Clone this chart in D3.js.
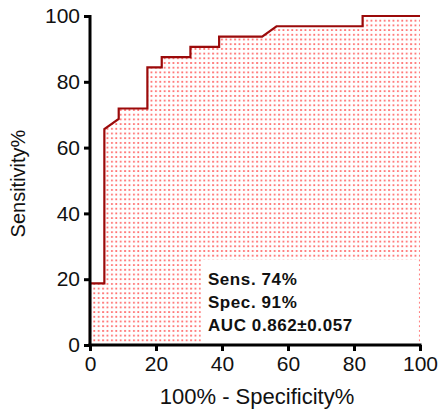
<!DOCTYPE html>
<html>
<head>
<meta charset="utf-8">
<script src="https://cdn.jsdelivr.net/npm/d3@7"></script>
<style>
  body { margin: 0; background: #fff; }
  svg { display: block; }
</style>
</head>
<body>
<script>
// ROC curve points: x = 100% - Specificity%, y = Sensitivity%
const fpr = [0, 0, 4.35, 4.35, 8.70, 8.70, 17.39, 17.39, 21.74, 21.74, 30.43, 30.43, 39.13, 39.13, 52.17, 56.52, 82.61, 82.61, 100];
const sens = [0, 18.75, 18.75, 65.63, 68.75, 71.88, 71.88, 84.38, 84.38, 87.5, 87.5, 90.63, 90.63, 93.75, 93.75, 96.88, 96.88, 100, 100];
const xTicks = [0, 20, 40, 60, 80, 100];
const yTicks = [0, 20, 40, 60, 80, 100];
const statsLines = ["Sens. 74%", "Spec. 91%", "AUC 0.862\u00b10.057"];
const xLabel = "100% - Specificity%";
const yLabel = "Sensitivity%";

const W = 442, H = 410;
const svg = d3.select("body").append("svg").attr("width", W).attr("height", H);

const x = d3.scaleLinear().domain([0, 100]).range([90, 420]);
const y = d3.scaleLinear().domain([0, 100]).range([345, 16]);

const pts = fpr.map((v, i) => [v, sens[i]]);

const defs = svg.append("defs");
const pat = defs.append("pattern").attr("id", "dots").attr("patternUnits", "userSpaceOnUse")
  .attr("width", 4.4).attr("height", 4.7);
pat.append("rect").attr("x", 1).attr("y", 1).attr("width", 1.8).attr("height", 1.8).attr("fill", "#ff4a4a").attr("opacity", 0.8);

// fill area under curve
const area = d3.area().x(d => x(d[0])).y0(y(0)).y1(d => y(d[1]));
svg.append("path").datum(pts).attr("d", area).attr("fill", "url(#dots)");

// stats box
const boxX0 = x(33.6), boxX1 = x(99.1), boxY0 = y(26);
svg.append("rect").attr("x", boxX0).attr("y", boxY0).attr("width", boxX1 - boxX0).attr("height", y(0) - boxY0)
  .attr("fill", "#fff");

// ROC line
const line = d3.line().x(d => x(d[0])).y(d => y(d[1]));
svg.append("path").datum(pts).attr("d", line).attr("fill", "none")
  .attr("stroke", "#9b0a0a").attr("stroke-width", 2.2).attr("stroke-linejoin", "miter");

// axes
const font = "'Liberation Sans', Arial, sans-serif";
const xAxis = svg.append("g").attr("transform", `translate(0,${y(0)})`)
  .call(d3.axisBottom(x).tickValues(xTicks).tickSize(6).tickPadding(5).tickFormat(d3.format("d")));
const yAxis = svg.append("g").attr("transform", `translate(${x(0)},0)`)
  .call(d3.axisLeft(y).tickValues(yTicks).tickSize(6).tickPadding(4).tickFormat(d3.format("d")));
[xAxis, yAxis].forEach(g => {
  g.select(".domain").attr("stroke", "#000").attr("stroke-width", 3);
  g.selectAll(".tick line").attr("stroke", "#000").attr("stroke-width", 3);
  g.selectAll(".tick text").attr("fill", "#111").style("font-family", font).style("font-size", "21px");
});
xAxis.select(".domain").attr("d", `M${x(0) - 1.5},0H${x(100) + 1.5}`);
yAxis.select(".domain").attr("d", `M0,${y(100) - 1}V${y(0) + 1.5}`);

// axis labels
svg.append("text").attr("x", (x(0) + x(100)) / 2 + 2).attr("y", 404).attr("text-anchor", "middle")
  .style("font-family", font).style("font-size", "22px").attr("fill", "#111").text(xLabel);
svg.append("text").attr("transform", `translate(25,${(y(0) + y(100)) / 2 + 3}) rotate(-90)`).attr("text-anchor", "middle")
  .style("font-family", font).style("font-size", "20px").attr("fill", "#111").text(yLabel);

// stats text
svg.selectAll("text.stat").data(statsLines).enter().append("text").attr("class", "stat")
  .attr("x", boxX0 + 7).attr("y", (d, i) => 285 + i * 23)
  .style("font-family", font).style("font-size", "17px").style("font-weight", "bold")
  .style("letter-spacing", "0.6px").attr("fill", "#111")
  .text(d => d);
</script>
</body>
</html>
